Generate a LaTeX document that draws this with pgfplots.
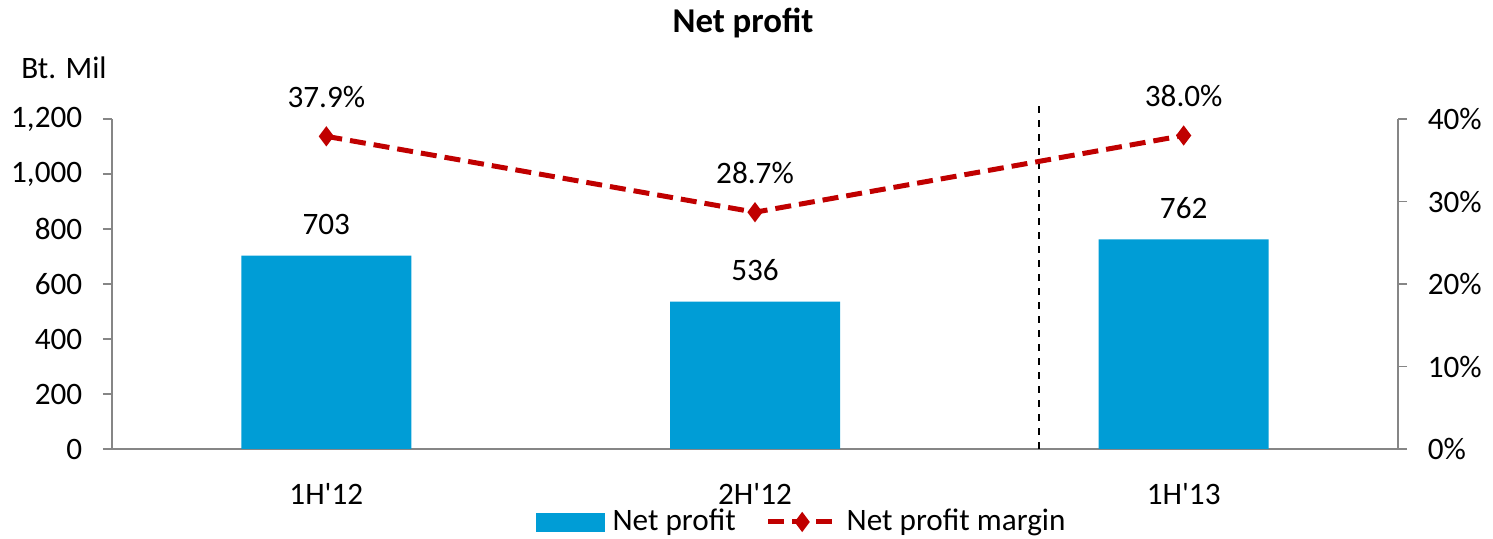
\documentclass[border=0pt]{standalone}
\usepackage{fontspec}
\setmainfont{Carlito}
\usepackage{pgfplots}
\pgfplotsset{compat=1.18}
\definecolor{barblue}{RGB}{0,157,214}
\definecolor{linered}{RGB}{192,0,0}
\definecolor{axgray}{RGB}{134,134,134}
\begin{document}
\fontsize{15.6}{18}\selectfont
\begin{tikzpicture}
\path[use as bounding box] (0,0) rectangle (746.5pt,269.5pt);
\begin{axis}[
  at={(56pt,45pt)}, anchor=south west,
  scale only axis, width=643pt, height=165pt,
  xmin=-0.5, xmax=2.5, ymin=0, ymax=1200,
  xtick={0,1,2}, xticklabels={1H\textquotesingle12,2H\textquotesingle12,1H\textquotesingle13},
  ytick={0,200,...,1200},
  axis x line*=bottom, axis y line*=left,
  axis line style={axgray, line width=0.8pt, -},
  x tick style={draw=none},
  y tick style={axgray, line width=0.8pt},
  tick align=outside, major tick length=4.5pt,
  /pgf/number format/assume math mode=true,
  /pgf/number format/1000 sep={,},
  yticklabel style={xshift=-5pt},
  xticklabel style={yshift=-7.5pt},
  clip=false,
  ybar, bar width=85pt,
  nodes near coords,
  nodes near coords style={black, yshift=5pt},
]
\addplot[fill=barblue, draw=none] coordinates {(0,703) (1,536) (2,762)};
\draw[black, line width=0.8pt, dash pattern=on 3.5pt off 3.5pt] (axis cs:1.662,0) -- (axis cs:1.662,1269);
\end{axis}
\begin{axis}[
  at={(56pt,45pt)}, anchor=south west,
  scale only axis, width=643pt, height=165pt,
  xmin=-0.5, xmax=2.5, ymin=0, ymax=40,
  axis x line=none, axis y line*=right,
  axis line style={axgray, line width=0.8pt, -},
  ytick={0,10,...,40},
  yticklabel={\pgfmathprintnumber{\tick}\%},
  y tick style={axgray, line width=0.8pt},
  tick align=outside, major tick length=4.5pt,
  /pgf/number format/assume math mode=true,
  yticklabel style={xshift=5pt},
  clip=false,
  legend style={at={(0.537,-0.221)}, anchor=center, draw=none, fill=none,
    legend columns=2, font=\fontsize{15.6}{18}\selectfont,
    /tikz/every odd column/.append style={column sep=2pt},
    /tikz/every even column/.append style={column sep=13pt},
    legend cell align=left},
  legend image code/.code={\draw[mark repeat=2,mark phase=2,#1] plot coordinates {(0pt,0pt) (17pt,0pt) (34pt,0pt)};},
]
\addlegendimage{legend image code/.code={\fill[barblue] (0pt,-4.5pt) rectangle (34pt,4.5pt);}}
\addlegendentry{Net profit}
\addplot[linered, line width=2.5pt, dash pattern=on 8pt off 4pt, mark=diamond*, mark size=3pt, mark options={solid},
  nodes near coords={\pgfmathprintnumber[fixed,fixed zerofill,precision=1]{\pgfplotspointmeta}\%},
  nodes near coords style={black, yshift=8pt}] coordinates {(0,37.9) (1,28.7) (2,38.0)};
\addlegendentry{Net profit margin}
\end{axis}
\node[font=\bfseries\fontsize{17.4}{20}\selectfont] at (371.5pt,258pt) {Net profit};
\node at (32pt,235.5pt) {Bt. Mil};
\end{tikzpicture}
\end{document}
